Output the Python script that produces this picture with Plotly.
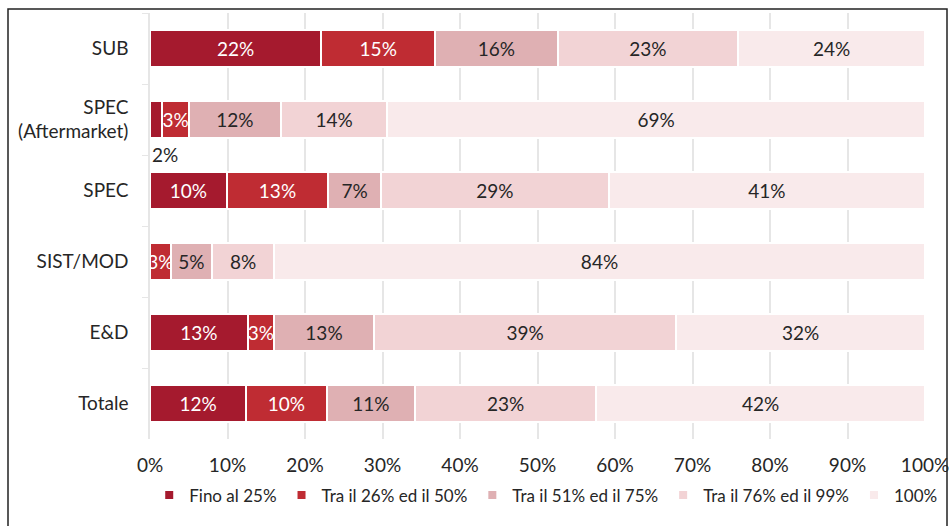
import plotly.graph_objects as go

categories = ["SUB", "SPEC<br>(Aftermarket)", "SPEC", "SIST/MOD", "E&D", "Totale"]
series_names = ["Fino al 25%", "Tra il 26% ed il 50%", "Tra il 51% ed il 75%",
                "Tra il 76% ed il 99%", "100%"]

fino_25 = [22.1, 1.6, 9.9, 0.0, 12.6, 12.4]
tra_26_50 = [14.7, 3.4, 13.1, 2.7, 3.4, 10.4]
tra_51_75 = [15.8, 11.9, 6.8, 5.3, 12.9, 11.4]
tra_76_99 = [23.3, 13.7, 29.4, 8.0, 39.0, 23.4]
pieno_100 = [24.1, 69.4, 40.8, 84.0, 32.1, 42.4]

values = [fino_25, tra_26_50, tra_51_75, tra_76_99, pieno_100]
colors = ["#A51A2E", "#BF2C33", "#DFB0B3", "#F2D3D5", "#F9EAEB"]
text_colors = ["white", "white", "#262626", "#262626", "#262626"]

FONT = "Lato"

fig = go.Figure()
for name, vals, col, tcol in zip(series_names, values, colors, text_colors):
    labels = []
    for cat, v in zip(categories, vals):
        # the tiny aftermarket slice gets its label below the bar instead
        if v == 0 or (name == "Fino al 25%" and cat.startswith("SPEC<br>")):
            labels.append("")
        else:
            labels.append(f"{round(v)}%")
    fig.add_trace(go.Bar(
        y=categories, x=vals, name=name, orientation="h", showlegend=False,
        marker=dict(color=col, line=dict(color="white", width=2)),
        text=labels, textposition="inside", insidetextanchor="middle",
        textangle=0, constraintext="none", cliponaxis=False,
        textfont=dict(color=tcol, size=19, family=FONT),
        hoverinfo="skip",
    ))
    # small square legend keys, like the original
    fig.add_trace(go.Scatter(
        x=[None], y=[None], mode="markers", name=name,
        marker=dict(symbol="square", size=8, color=col),
        hoverinfo="skip",
    ))

fig.add_annotation(x=0, y=categories[1], text=f"{round(fino_25[1])}%",
                   xanchor="left", yanchor="top", yshift=-21, showarrow=False,
                   font=dict(size=19, color="#262626", family=FONT))

# outer frame
fig.add_shape(type="rect", xref="paper", yref="paper",
              x0=-142 / 775, x1=1 + 22 / 775, y0=-95 / 430, y1=1 + 4 / 430,
              line=dict(color="#222222", width=1.5))

fig.update_layout(
    barmode="stack",
    bargap=0.47,
    width=949, height=526,
    margin=dict(l=150, r=24, t=13, b=83),
    paper_bgcolor="white", plot_bgcolor="white",
    font=dict(family=FONT, size=19, color="#262626"),
    showlegend=True,
    legend=dict(orientation="h", x=-0.001, xanchor="left", y=-57 / 430, yanchor="middle",
                font=dict(size=17), itemwidth=30, traceorder="normal"),
    xaxis=dict(range=[0, 100], dtick=10, ticksuffix="%", showgrid=True,
               gridcolor="#E6E6E6", gridwidth=1.5, zeroline=False,
               ticklabelstandoff=13, ticklabeloverflow="allow",
               automargin=False, fixedrange=True),
    yaxis=dict(autorange="reversed", showgrid=False, showline=True,
               linecolor="#E6E6E6", linewidth=1.5, ticks="outside",
               tickson="boundaries", ticklen=6, tickcolor="#E6E6E6",
               ticklabelstandoff=16, automargin=False, fixedrange=True),
)

fig.write_html("out.html", config={"displayModeBar": False},
               post_script="document.body.style.margin='0';")
